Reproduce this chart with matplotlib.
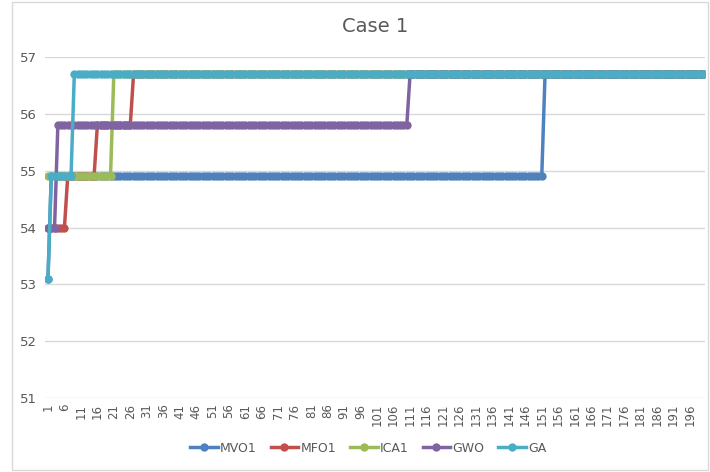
import matplotlib
matplotlib.use("Agg")
import matplotlib.pyplot as plt
from matplotlib.patches import Rectangle
import numpy as np

# iterations 1..200, each series stored as (level, run length) pairs
iterations = np.arange(1, 201)

mvo1_levels = [53.1, 54.9, 56.7]
mvo1_runs = [1, 150, 49]
mfo1_levels = [54.0, 54.9, 55.8, 56.7]
mfo1_runs = [6, 9, 11, 174]
ica1_levels = [54.9, 56.7]
ica1_runs = [20, 180]
gwo_levels = [54.0, 55.8, 56.7]
gwo_runs = [3, 107, 90]
ga_levels = [53.1, 54.9, 56.7]
ga_runs = [1, 7, 192]

names = ["MVO1", "MFO1", "ICA1", "GWO", "GA"]
colors = ["#4F81BD", "#C0504D", "#9BBB59", "#8064A2", "#4BACC6"]
levels = [mvo1_levels, mfo1_levels, ica1_levels, gwo_levels, ga_levels]
runs = [mvo1_runs, mfo1_runs, ica1_runs, gwo_runs, ga_runs]

xticks = list(range(1, 200, 5))

fig = plt.figure(figsize=(7.1, 4.72), dpi=100)
ax = fig.add_axes([0.0634, 0.1568, 0.9296, 0.7224])

for name, c, lv, rn in zip(names, colors, levels, runs):
    y = np.repeat(lv, rn)
    ax.plot(iterations, y, color=c, lw=2.5, marker="o", ms=6,
            markeredgewidth=0, label=name)

ax.set_xlim(0.1, 200.6)
ax.set_ylim(51, 57)
ax.set_yticks([51, 52, 53, 54, 55, 56, 57])
ax.set_xticks(xticks)
ax.set_xticklabels([str(t) for t in xticks], rotation=90)
ax.grid(axis="y", color="#D9D9D9", lw=1)
ax.set_axisbelow(True)
for s in ax.spines.values():
    s.set_visible(False)
ax.tick_params(length=0, colors="#595959")
ax.tick_params(axis="y", labelsize=9.5, pad=6)
ax.tick_params(axis="x", labelsize=8.5, pad=4)

ax.set_title("Case 1", fontsize=14, color="#595959", pad=18)

leg = ax.legend(loc="center", bbox_to_anchor=(0.49, -0.147), ncol=5,
                frameon=False, fontsize=9, handlelength=2.2, columnspacing=1.1,
                handletextpad=0.2)
for t in leg.get_texts():
    t.set_color("#595959")

fig.patches.append(Rectangle((12 / 710, 2 / 472), 696 / 710, 468 / 472,
                             transform=fig.transFigure, fill=False,
                             edgecolor="#D9D9D9", lw=1))

plt.savefig("out.png", dpi=100)
